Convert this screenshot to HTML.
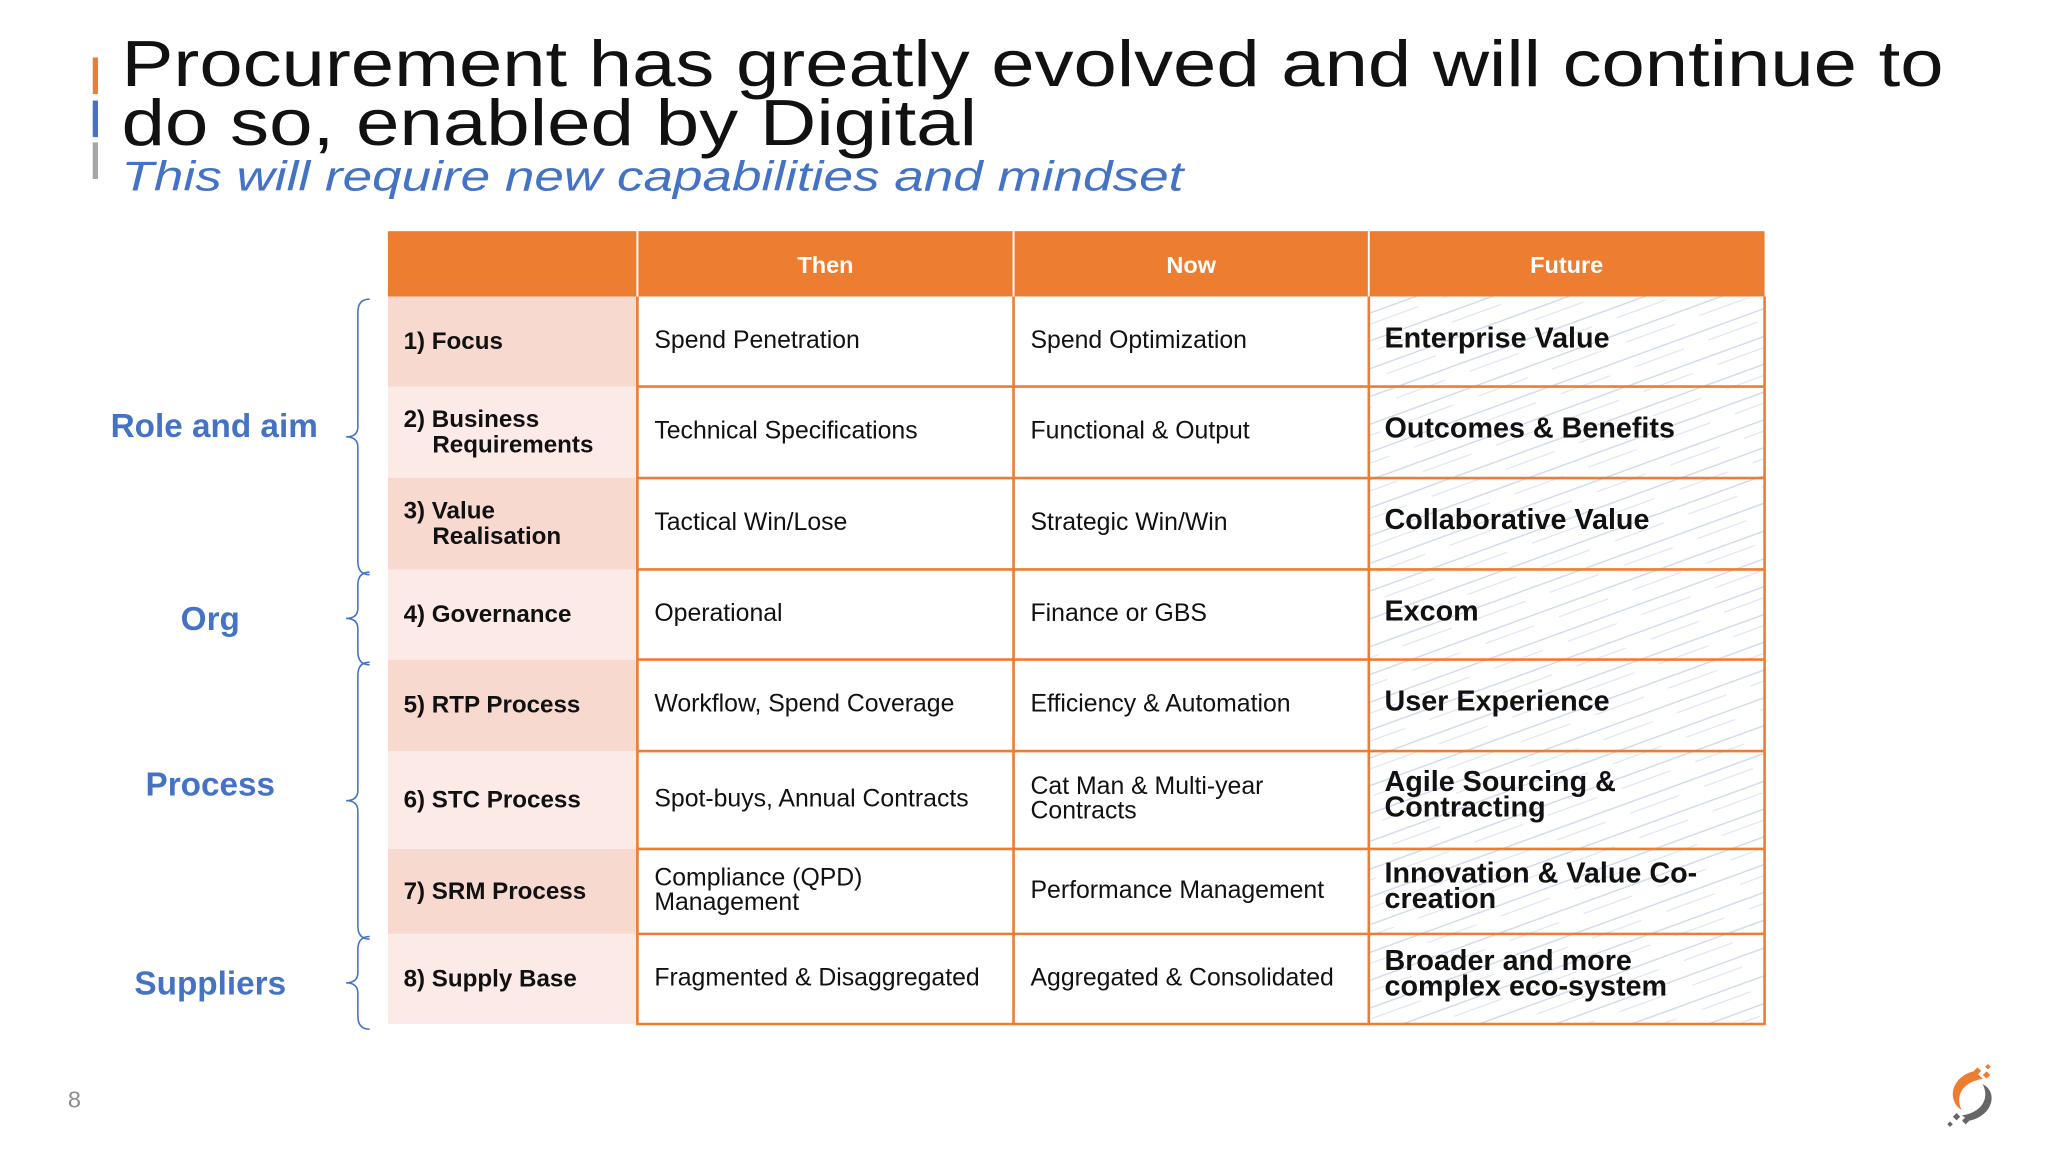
<!DOCTYPE html>
<html><head><meta charset="utf-8"><style>
html,body{margin:0;padding:0;background:#fff;}
svg{display:block;font-family:"Liberation Sans",Arial,sans-serif;}
</style></head><body>
<svg id="s" width="2048" height="1152" viewBox="0 0 1568 882" xmlns="http://www.w3.org/2000/svg">
<defs>
<pattern id="streak" width="60" height="20" patternUnits="userSpaceOnUse" patternTransform="rotate(-20)">
<line x1="0" y1="4" x2="60" y2="4" stroke="#9fb3d9" stroke-width="1" opacity="0.5"/>
<line x1="0" y1="12" x2="40" y2="12" stroke="#9fb3d9" stroke-width="0.8" opacity="0.4"/>
</pattern>
</defs>
<rect width="1568" height="882" fill="#fff"/>
<rect x="71" y="44" width="4" height="28" fill="#ED7D31"/>
<rect x="71" y="77" width="4" height="28" fill="#4472C4"/>
<rect x="71" y="109" width="4" height="28" fill="#A5A5A5"/>
<text x="93" y="66" font-size="50" fill="#111" textLength="1395" lengthAdjust="spacingAndGlyphs">Procurement has greatly evolved and will continue to</text>
<text x="93" y="111" font-size="50" fill="#111" textLength="655" lengthAdjust="spacingAndGlyphs">do so, enabled by Digital</text>
<text x="93" y="146" font-size="32" font-style="italic" fill="#4472C4" textLength="813" lengthAdjust="spacingAndGlyphs">This will require new capabilities and mindset</text>
<g id="tbl"></g>
<text x="52" y="848" font-size="18" fill="#8c8c8c">8</text>
<g>
<path d="M1512,820 C1494,824 1490,842 1502,850 C1496,838 1504,828 1518,826 Z" fill="#ED7D31"/>
<path d="M1508,858 C1526,854 1530,836 1518,830 C1524,842 1516,852 1502,854 Z" fill="#666"/>
<rect x="1512" y="818" width="4" height="4" fill="#ED7D31" transform="rotate(45 1514 820)"/>
<rect x="1519" y="821" width="4" height="4" fill="#ED7D31" transform="rotate(45 1521 823)"/>
<rect x="1521" y="815" width="3" height="3" fill="#ED7D31" transform="rotate(45 1522 816)"/>
<rect x="1496" y="853" width="4" height="4" fill="#666" transform="rotate(45 1498 855)"/>
<rect x="1503" y="856" width="4" height="4" fill="#666" transform="rotate(45 1505 858)"/>
<rect x="1492" y="859" width="3" height="3" fill="#666" transform="rotate(45 1493 860)"/>
</g>
</svg>
<script>
const headers = ["", "Then", "Now", "Future"];
const rowLabels = [["1) Focus"],["2) Business","Requirements"],["3) Value","Realisation"],["4) Governance"],["5) RTP Process"],["6) STC Process"],["7) SRM Process"],["8) Supply Base"]];
const thenVals = [["Spend Penetration"],["Technical Specifications"],["Tactical Win/Lose"],["Operational"],["Workflow, Spend Coverage"],["Spot-buys, Annual Contracts"],["Compliance (QPD)","Management"],["Fragmented & Disaggregated"]];
const nowVals = [["Spend Optimization"],["Functional & Output"],["Strategic Win/Win"],["Finance or GBS"],["Efficiency & Automation"],["Cat Man & Multi-year","Contracts"],["Performance Management"],["Aggregated & Consolidated"]];
const futureVals = [["Enterprise Value"],["Outcomes & Benefits"],["Collaborative Value"],["Excom"],["User Experience"],["Agile Sourcing &","Contracting"],["Innovation & Value Co-","creation"],["Broader and more","complex eco-system"]];
const groups = [["Role and aim",0,2],["Org",3,3],["Process",4,6],["Suppliers",7,7]];
const rowEdges=[227,296,366,436,505,575,650,715,784];
const colEdges=[297,488,776,1048,1351];
const NS="http://www.w3.org/2000/svg";
const g=document.getElementById('tbl');
function mk(t,a,p){const e=document.createElementNS(NS,t);for(const k in a)e.setAttribute(k,a[k]);(p||g).appendChild(e);return e;}
let h=mk('rect',{x:297,y:177,width:1054,height:50,fill:'#ED7D31'});


headers.forEach((t,i)=>{if(!t)return;const e=mk('text',{x:(colEdges[i]+colEdges[i+1])/2,y:209,'font-size':18,'font-weight':'bold',fill:'#fff','text-anchor':'middle'});e.textContent=t;

});
function lines(arr,x,yc,size,bold,name,top,lhf){const lh=size*(lhf||1.05);const y0=top?yc:yc-(arr.length-1)*lh/2;arr.forEach((s,j)=>{const e=mk('text',{x:x+(j>0&&name.startsWith('row-label')?22:0),y:y0+j*lh+size*0.36,'font-size':size,'font-weight':bold?'bold':'normal',fill:'#111'});e.textContent=s;

});}
for(let r=0;r<8;r++){const y=rowEdges[r],hh=rowEdges[r+1]-y,yc=y+hh/2;
const c=mk('rect',{x:297,y:y,width:191,height:hh,fill:r%2?'#FBEAE6':'#F8D9D0'});


mk('rect',{x:1048,y:y,width:303,height:hh,fill:'url(#streak)'});
lines(rowLabels[r],309,yc-1,18.5,true,'row-label-'+(r+1),false,1.05);
lines(thenVals[r],501,yc-2,19,false,'then-cell-'+(r+1),false,1.0);
lines(nowVals[r],789,yc-2,19,false,'now-cell-'+(r+1),false,1.0);
const fv=futureVals[r];lines(fv,1060,fv.length>1?yc-5:y+31,22,true,'future-cell-'+(r+1),fv.length===1,0.9);}
colEdges.slice(1).forEach((x,i)=>{mk('line',{x1:x,y1:i<3?177:227,x2:x,y2:785,stroke:'#ED7D31','stroke-width':2});if(i<3)mk('line',{x1:x,y1:177,x2:x,y2:227,stroke:'#fff','stroke-width':1.5});});
rowEdges.slice(1).forEach(y=>mk('line',{x1:488,y1:y,x2:1351,y2:y,stroke:'#ED7D31','stroke-width':2}));
groups.forEach(([t,a,b])=>{const y1=rowEdges[a]+2,y2=rowEdges[b+1]+4,m=(y1+y2)/2;
const p=mk('path',{d:`M283,${y1} Q274,${y1} 274,${y1+10} L274,${m-8} Q274,${m} 265,${m} Q274,${m} 274,${m+8} L274,${y2-10} Q274,${y2} 283,${y2}`,fill:'none',stroke:'#4472C4','stroke-width':1.2});


const e=mk('text',{x:t==='Role and aim'?164:161,y:m+(t==='Role and aim'?0:t==='Process'?-4:9),'font-size':25.5,'font-weight':'bold',fill:'#4472C4','text-anchor':'middle'});e.textContent=t;

});
</script>
</body></html>
